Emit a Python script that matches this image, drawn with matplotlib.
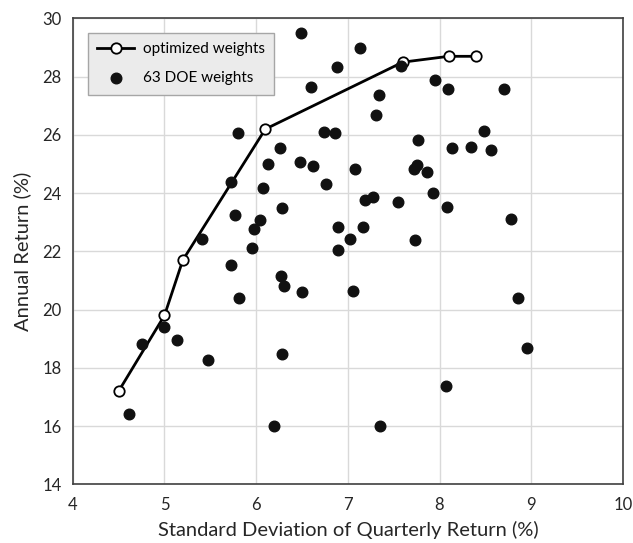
import matplotlib
matplotlib.use('Agg')
import matplotlib.pyplot as plt

plt.rcParams['font.family'] = ['Lato', 'DejaVu Sans']

# 优化权重前沿
opt_sd = [4.50, 5.00, 5.20, 6.10, 7.60, 8.10, 8.40]
opt_ret = [17.2, 19.8, 21.7, 26.2, 28.5, 28.7, 28.7]

# 63 个 DOE 权重点
doe_sd = [6.49, 7.13, 6.88, 6.60, 5.80, 6.74, 6.86, 6.26, 6.13, 6.48,
          6.62, 7.08, 5.73, 6.07, 6.76, 6.28, 5.77, 6.04, 5.98, 5.41,
          5.955, 6.89, 7.02, 6.89, 5.73, 7.58, 7.955, 8.09, 8.70, 7.34,
          7.31, 8.485, 7.76, 8.14, 8.34, 8.56, 7.72, 7.75, 7.86, 7.19,
          7.27, 7.55, 7.93, 8.085, 8.78, 7.17, 7.73, 6.275, 6.30, 6.50,
          7.06, 5.81, 5.00, 4.76, 5.14, 5.48, 6.285, 4.61, 6.195, 8.86,
          8.95, 8.07, 7.355]
doe_ret = [29.5, 29.0, 28.35, 27.65, 26.05, 26.1, 26.08, 25.55, 25.0, 25.08,
           24.92, 24.84, 24.4, 24.18, 24.3, 23.49, 23.26, 23.08, 22.77, 22.44,
           22.1, 22.84, 22.43, 22.06, 21.55, 28.36, 27.89, 27.58, 27.58, 27.36,
           26.67, 26.15, 25.83, 25.55, 25.6, 25.47, 24.84, 24.98, 24.74, 23.78,
           23.87, 23.71, 23.99, 23.53, 23.13, 22.85, 22.39, 21.17, 20.81, 20.6,
           20.64, 20.4, 19.4, 18.83, 18.97, 18.28, 18.47, 16.41, 15.99, 20.4,
           18.69, 17.38, 15.99]

x_ticks = [4, 5, 6, 7, 8, 9, 10]
y_ticks = [14, 16, 18, 20, 22, 24, 26, 28, 30]

fig = plt.figure(figsize=(6.33, 5.43), dpi=100)
ax = fig.add_axes([0.115, 0.108, 0.869, 0.858])

ax.plot(opt_sd, opt_ret, '-o', color='black', lw=2, ms=7.5,
        mfc='white', mec='black', mew=1.3, zorder=3, label='optimized weights')
ax.scatter(doe_sd, doe_ret, s=58, color='#111111', zorder=4,
           label='63 DOE weights')

ax.set_xlim(4, 10)
ax.set_ylim(14, 30)
ax.set_xticks(x_ticks)
ax.set_yticks(y_ticks)
ax.grid(True, color='#d9d9d9', lw=1)
ax.set_axisbelow(True)
ax.tick_params(length=0, labelsize=12, colors='#262626')
ax.tick_params(axis='x', pad=9)
ax.tick_params(axis='y', pad=8)
for s in ax.spines.values():
    s.set_color('#404040')
    s.set_linewidth(1.2)

ax.set_xlabel('Standard Deviation of Quarterly Return (%)', fontsize=14.5,
              color='#262626', labelpad=6)
ax.set_ylabel('Annual Return (%)', fontsize=14.5, color='#262626', labelpad=8)

leg = ax.legend(loc='upper left', bbox_to_anchor=(0.028, 0.969), borderaxespad=0,
                fontsize=11, frameon=True, fancybox=False, borderpad=0.6,
                labelspacing=1.0, handlelength=2.4, handletextpad=0.6)
leg.get_frame().set_facecolor('#ebebeb')
leg.get_frame().set_edgecolor('#a6a6a6')
leg.get_frame().set_alpha(1)

plt.savefig('out.png', dpi=100)
